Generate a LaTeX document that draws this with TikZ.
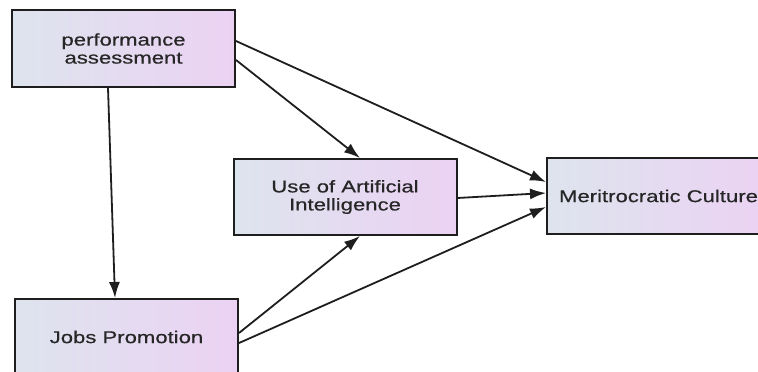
\documentclass[tikz,border=0pt]{standalone}
\usepackage{fontspec}
\newfontfamily\labfont[FakeStretch=1.3,FakeBold=0.6]{Liberation Sans}
\usetikzlibrary{arrows.meta}
\definecolor{boxleft}{RGB}{222,228,238}
\definecolor{boxright}{RGB}{235,210,243}
\definecolor{edgecol}{RGB}{30,30,30}
\begin{document}
\begin{tikzpicture}[x=1pt,y=-1pt,
  boxnode/.style={draw=edgecol, line width=2pt, left color=boxleft, right color=boxright,
    minimum width=223pt, minimum height=76pt, inner sep=0pt, align=center,
    font=\labfont\fontsize{17}{18}\selectfont, text=black!85},
  conn/.style={draw=edgecol, line width=1.8pt, -{Latex[length=16pt,width=11pt]}}]
\useasboundingbox (0,0) rectangle (758,372);
\clip (0,0) rectangle (758,372);
\fill[white] (0,0) rectangle (758,372);
\node[boxnode, minimum height=77pt] (pa) at (123.5,48.5) {performance\\assessment};
\node[boxnode] (ai) at (345,197) {Use of Artificial\\Intelligence};
\node[boxnode] (mc) at (658.5,196) {Meritrocratic Culture};
\node[boxnode] (jp) at (126.5,337) {Jobs Promotion};
\draw[conn] ([xshift=-15.5pt]pa.south) -- ([xshift=-11.5pt]jp.north);
\draw[conn] ([yshift=7.5pt]pa.east) -- ([yshift=14pt]mc.west);
\draw[conn] ([yshift=-11.5pt]pa.east) -- ([xshift=15pt]ai.north);
\draw[conn] ([yshift=-1pt]ai.east) -- ([yshift=3pt]mc.west);
\draw[conn] ([yshift=4pt]jp.east) -- ([xshift=15pt]ai.south);
\draw[conn] ([yshift=-6pt]jp.east) -- ([yshift=-11pt]mc.west);
\end{tikzpicture}
\end{document}
